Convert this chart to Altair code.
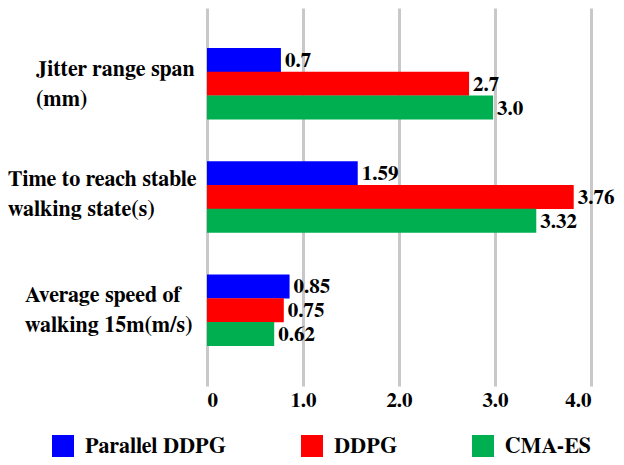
import altair as alt
import pandas as pd

# ---- data ----
categories = [
    "Jitter range span (mm)",
    "Time to reach stable walking state(s)",
    "Average speed of walking 15m(m/s)",
]
category_lines = [
    "Jitter range span|(mm)",
    "Time to reach stable|walking state(s)",
    "Average speed of|walking 15m(m/s)",
]
series = ["Parallel DDPG", "DDPG", "CMA-ES"]
colors = ["#0000FF", "#FF0000", "#00B050"]

# bar lengths as drawn in the picture
parallel_ddpg = [0.77, 1.57, 0.86]
ddpg = [2.73, 3.82, 0.80]
cma_es = [2.98, 3.43, 0.70]

# value labels printed next to the bars
parallel_labels = ["0.7", "1.59", "0.85"]
ddpg_labels = ["2.7", "3.76", "0.75"]
cma_labels = ["3.0", "3.32", "0.62"]

x_ticks = [0, 1, 2, 3, 4]

# ---- styling ----
FONT = "FreeSerif"
label_left = [-171, -199, -182]  # left edge of each category label block (px from plot origin)
label_dy = [-15, -18, -15]       # vertical shift of each two-line label block

rows = []
for s, vals, labs in [
    (series[0], parallel_ddpg, parallel_labels),
    (series[1], ddpg, ddpg_labels),
    (series[2], cma_es, cma_labels),
]:
    for c, v, l in zip(categories, vals, labs):
        rows.append({"category": c, "series": s, "value": v, "label": l})
df = pd.DataFrame(rows)

y_scale = alt.Scale(domain=categories, paddingInner=0.37, paddingOuter=0.355)
y_enc = alt.Y("category:N", scale=y_scale, axis=None)
yoff = alt.YOffset("series:N", scale=alt.Scale(domain=series, paddingInner=0, paddingOuter=0))

x_enc = alt.X(
    "value:Q",
    scale=alt.Scale(domain=[0, 4], nice=False, zero=True),
    axis=alt.Axis(
        values=x_ticks,
        labelExpr="datum.value == 0 ? '0' : format(datum.value, '.1f')",
        grid=True,
        gridColor="#c8c8c8",
        gridWidth=3,
        domain=False,
        ticks=False,
        labelFont=FONT,
        labelFontSize=21,
        labelFontWeight="bold",
        labelColor="#000000",
        labelPadding=3,
        title=None,
    ),
)

bars = alt.Chart(df).mark_bar(size=24).encode(
    x=x_enc,
    y=y_enc,
    yOffset=yoff,
    color=alt.Color(
        "series:N",
        scale=alt.Scale(domain=series, range=colors),
        legend=alt.Legend(
            orient="none",
            direction="horizontal",
            legendX=-155,
            legendY=427,
            title=None,
            symbolType="square",
            symbolSize=484,
            symbolStrokeWidth=0,
            symbolOpacity=1,
            labelFont=FONT,
            labelFontSize=22,
            labelFontWeight="bold",
            labelColor="#000000",
            labelOffset=11,
            columnPadding=74,
            labelLimit=300,
        ),
    ),
)

values = alt.Chart(df).mark_text(
    align="left", baseline="middle", dx=4, dy=1,
    font=FONT, fontSize=21, fontWeight="bold", color="#000000",
).encode(
    x=alt.X("value:Q"),
    y=y_enc,
    yOffset=yoff,
    text="label:N",
)

cat_layers = []
for c, lines, lx, ldy in zip(categories, category_lines, label_left, label_dy):
    cdf = pd.DataFrame({"category": [c], "text": [lines]})
    cat_layers.append(
        alt.Chart(cdf).mark_text(
            align="left", baseline="middle", lineBreak="|", lineHeight=30, dy=ldy,
            font=FONT, fontSize=22, fontWeight="bold", color="#000000",
        ).encode(
            x=alt.value(lx),
            y=y_enc,
            text="text:N",
        )
    )

chart = alt.layer(bars, values, *cat_layers).properties(
    width=384,
    height=378,
    padding={"left": 0, "top": 0, "right": 0, "bottom": 0},
).configure_view(strokeWidth=0)

chart.save("out.html", embed_options={"renderer": "svg", "actions": False})
